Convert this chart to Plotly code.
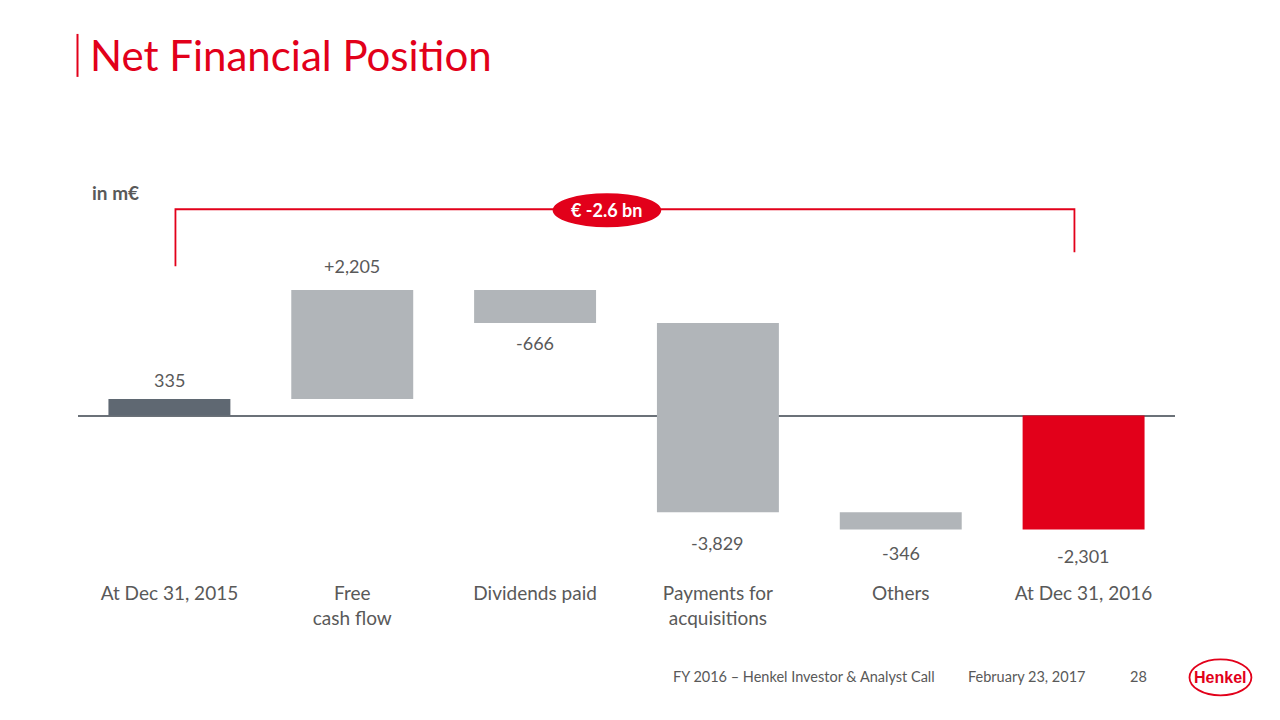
import plotly.graph_objects as go

# ---- data ----
categories = ["At Dec 31, 2015", "Free<br>cash flow", "Dividends paid",
              "Payments for<br>acquisitions", "Others", "At Dec 31, 2016"]
values = [335, 2205, -666, -3829, -346, -2301]
measures = ["absolute", "relative", "relative", "relative", "relative", "total"]
value_labels = ["335", "+2,205", "-666", "-3,829", "-346", "-2,301"]
bar_colors = ["#5f6872", "#b1b5b9", "#b1b5b9", "#b1b5b9", "#b1b5b9", "#e2001a"]

# label distance from bar end (style)
label_offsets = [19, 24, 20, 31, 24, 27]

# compute bases / heights for the waterfall
bases, heights = [], []
running = 0
for v, m in zip(values, measures):
    if m == "absolute":
        bases.append(0); heights.append(v); running = v
    elif m == "relative":
        bases.append(running); heights.append(v); running += v
    else:
        bases.append(0); heights.append(running)

xs = list(range(len(categories)))
FONT = "Lato, 'Open Sans', sans-serif"
GREY = "#595959"
RED = "#e2001a"

# plot area in pixels
PL, PR, PT, PB = 77.5, 1175.5, 193.2, 564.5
W, H = 1280, 720
def px(x): return (x - PL) / (PR - PL)
def py(y): return (PB - y) / (PB - PT)
UNIT = 20.2   # m€ per pixel
def vy(y): return (415.5 - y) * UNIT

fig = go.Figure()
fig.add_trace(go.Bar(x=xs, y=heights, base=bases, marker=dict(color=bar_colors, line=dict(width=0)),
                     hoverinfo="skip", showlegend=False))

# value labels
for i, (b, h, lab, off) in enumerate(zip(bases, heights, value_labels, label_offsets)):
    top, bot = max(b, b + h), min(b, b + h)
    if h >= 0:
        fig.add_annotation(x=i, y=top, text=lab, showarrow=False, yanchor="middle",
                           yshift=off, font=dict(size=18, color=GREY, family=FONT))
    else:
        fig.add_annotation(x=i, y=bot, text=lab, showarrow=False, yanchor="middle",
                           yshift=-off, font=dict(size=18, color=GREY, family=FONT))

fig.update_layout(
    width=W, height=H,
    margin=dict(l=PL, r=W - PR, t=PT, b=H - PB),
    paper_bgcolor="white", plot_bgcolor="white",
    bargap=0.333,
    xaxis=dict(range=[-0.5, 5.5], tickvals=xs, ticktext=categories, showgrid=False,
               showline=False, zeroline=False, ticks="", ticklabelstandoff=16,
               tickfont=dict(size=19, color=GREY, family=FONT), fixedrange=True),
    yaxis=dict(range=[-3000, 4500], showgrid=False, showticklabels=False, ticks="",
               zeroline=True, zerolinecolor="#6b7178", zerolinewidth=1.5, fixedrange=True),
)

shapes = [
    # bracket
    dict(type="path", xref="x", yref="y",
         path=f"M 0.033 {vy(266)} L 0.033 {vy(209)} L 4.95 {vy(209)} L 4.95 {vy(252)}",
         line=dict(color=RED, width=1.8)),
    # ellipse
    dict(type="circle", xref="x", yref="y", x0=2.393 - 0.297, x1=2.393 + 0.297,
         y0=vy(227), y1=vy(193), fillcolor=RED, line=dict(width=0), layer="above"),
    # title bar
    dict(type="line", xref="paper", yref="paper", x0=px(77), x1=px(77), y0=py(34), y1=py(77),
         line=dict(color=RED, width=2)),
    # Henkel logo ellipse
    dict(type="circle", xref="paper", yref="paper", x0=px(1190), x1=px(1252),
         y0=py(696), y1=py(660), line=dict(color=RED, width=1.8)),
]
for s in shapes:
    fig.add_shape(**s)

anns = [
    dict(xref="x", yref="y", x=2.393, y=vy(210), text="<b>€ -2.6 bn</b>",
         showarrow=False, font=dict(size=18, color="white", family=FONT)),
    dict(xref="paper", yref="paper", x=px(90), y=py(193), text="<b>in m€</b>",
         showarrow=False, xanchor="left", yanchor="middle",
         font=dict(size=19, color=GREY, family=FONT)),
    dict(xref="paper", yref="paper", x=px(88), y=py(55), text="Net Financial Position",
         showarrow=False, xanchor="left", yanchor="middle",
         font=dict(size=42, color=RED, family=FONT)),
    dict(xref="paper", yref="paper", x=px(937), y=py(677), text="FY 2016 – Henkel Investor & Analyst Call",
         showarrow=False, xanchor="right", yanchor="middle", font=dict(size=14.5, color=GREY, family=FONT)),
    dict(xref="paper", yref="paper", x=px(1088), y=py(677), text="February 23, 2017",
         showarrow=False, xanchor="right", yanchor="middle", font=dict(size=14.5, color=GREY, family=FONT)),
    dict(xref="paper", yref="paper", x=px(1149), y=py(677), text="28",
         showarrow=False, xanchor="right", yanchor="middle", font=dict(size=14.5, color=GREY, family=FONT)),
    dict(xref="paper", yref="paper", x=px(1221), y=py(678), text="<b>Henkel</b>",
         showarrow=False, xanchor="center", yanchor="middle",
         font=dict(size=16, color=RED, family="'Liberation Sans', Arial, sans-serif")),
]
for a in anns:
    fig.add_annotation(**a)

fig.write_html("out.html", config={"displayModeBar": False})
